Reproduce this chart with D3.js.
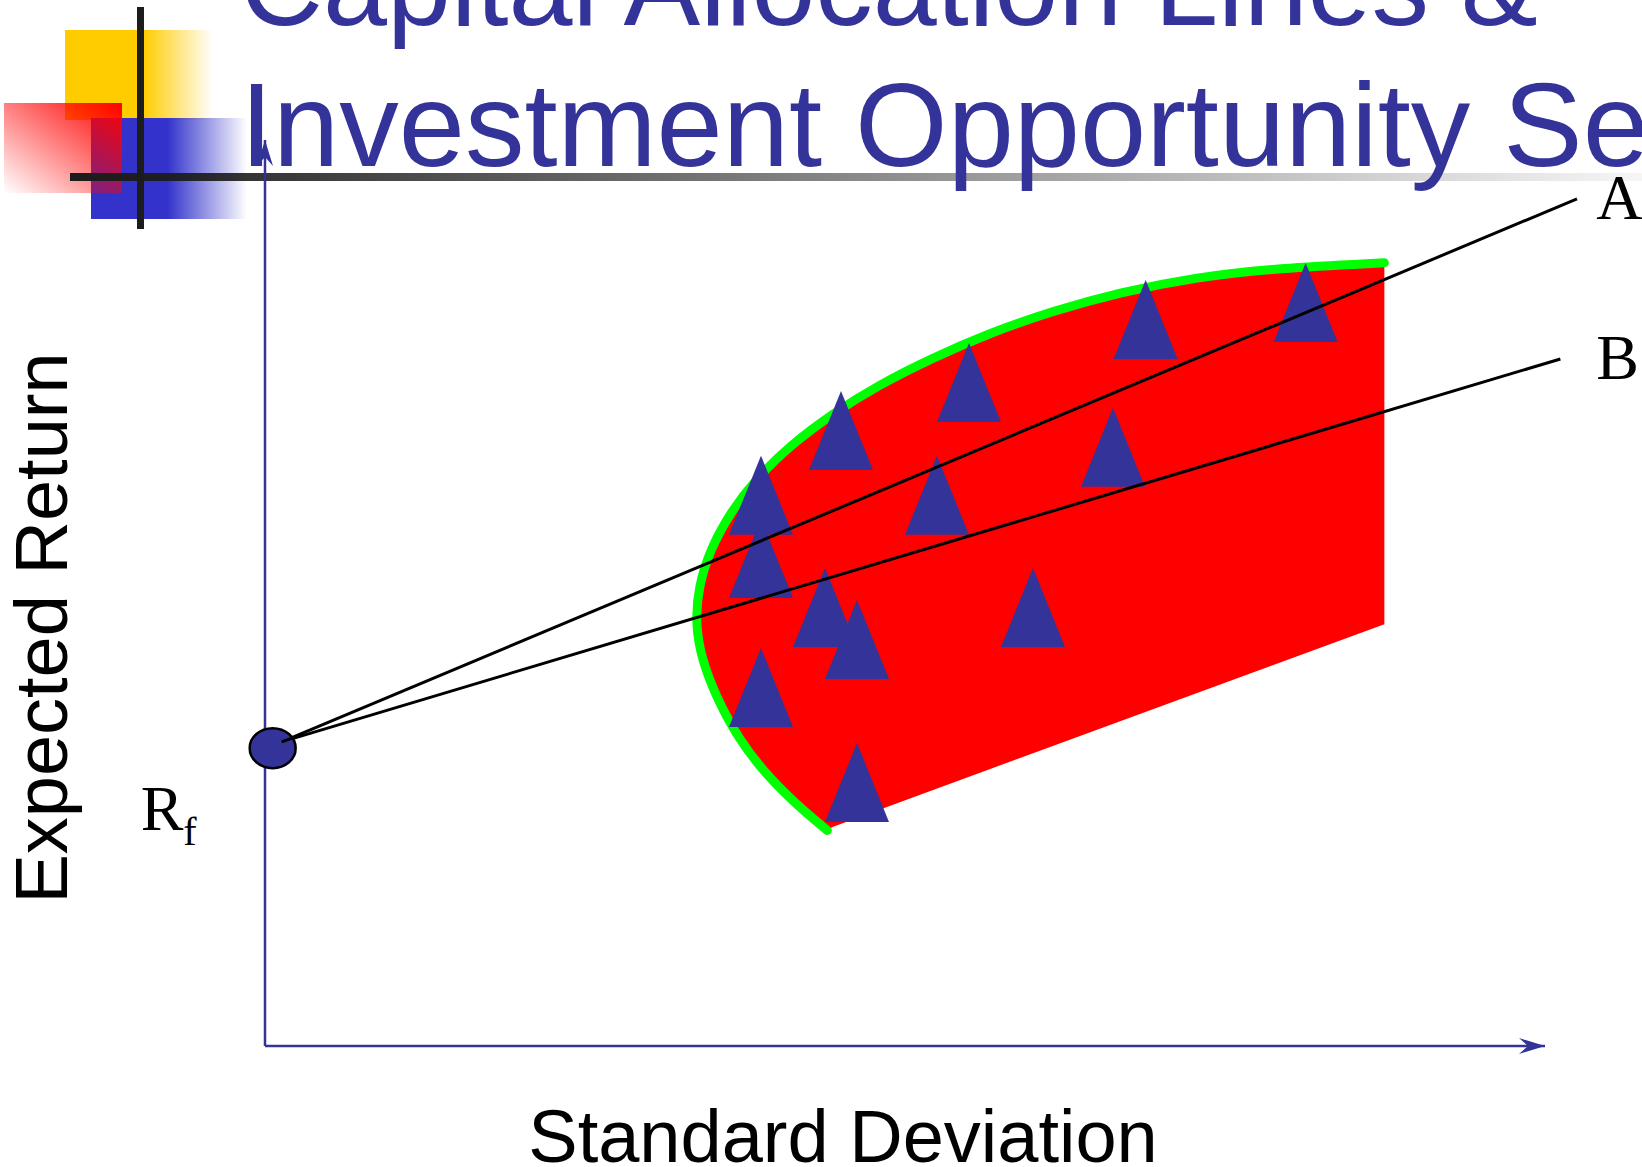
<!DOCTYPE html>
<html>
<head>
<meta charset="utf-8">
<script src="https://cdn.jsdelivr.net/npm/d3@7"></script>
<style>
  html, body { margin: 0; padding: 0; background: #fff; overflow: hidden; }
  svg { display: block; }
</style>
</head>
<body>
<div id="chart"></div>
<script>
/* Capital allocation lines over the investment opportunity set.
   Units on both axes run 0–100 along the drawn axis arrows. */

// efficient / minimum-variance frontier, bottom end -> top-right end
var frontier = [
  [43.93, 23.71], [41.48, 26.61], [39.02, 30.08], [36.98, 33.89], [35.34, 38.18],
  [34.11, 42.57], [33.62, 46.62], [33.87, 50.67], [34.77, 54.72], [36.32, 58.77],
  [38.37, 62.59], [41.06, 66.29], [44.34, 69.77], [48.02, 73.0], [52.11, 75.9],
  [56.61, 78.67], [61.52, 81.1], [66.84, 83.18], [72.56, 84.81], [79.11, 85.85],
  [87.45, 86.43]
];
// straight lower/right edge of the feasible set
var floorEdge = [[87.45, 46.5], [44.34, 24.1]];

// individual risky assets (triangle centres)
var assets = [
  [38.75, 60.7], [38.75, 53.7], [43.75, 48.3], [46.25, 44.75], [38.75, 39.45],
  [46.25, 28.95], [45.0, 67.85], [52.5, 60.7], [60.0, 48.3], [66.25, 66.0],
  [55.0, 73.15], [68.8, 80.1], [81.3, 82.0]
];

var riskFree = [0.6, 32.8];
var calStart = [1.3, 33.5];
var calNames = ["A", "B"];
var calEnds = [[102.5, 93.5], [101.2, 75.8]];

var titleLines = ["Capital Allocation Lines &", "Investment Opportunity Sets"];
var titleSizes = [115, 119];
var xTitle = "Standard Deviation";
var yTitle = "Expected Return";

(function () {
  "use strict";
  var W = 1642, H = 1167;
  var NAVY = "#333399", SANS = "'Liberation Sans', Arial, sans-serif",
      SERIF = "'Liberation Serif', 'Times New Roman', serif";

  var svg = d3.select("#chart").append("svg").attr("width", W).attr("height", H);
  var defs = svg.append("defs");

  var x = d3.scaleLinear().domain([0, 100]).range([265, 1545]);
  var y = d3.scaleLinear().domain([0, 100]).range([1045, 140]);

  // ---- gradients for the slide decoration ----
  function grad(id, x1, y1, x2, y2, stops) {
    var g = defs.append("linearGradient").attr("id", id)
      .attr("x1", x1).attr("y1", y1).attr("x2", x2).attr("y2", y2);
    stops.forEach(function (s) {
      g.append("stop").attr("offset", s[0]).attr("stop-color", s[1]).attr("stop-opacity", s[2]);
    });
  }
  grad("gY", 0, 0, 1, 0, [[0, "#FFCC00", 1], [0.53, "#FFCC00", 1], [1, "#FFCC00", 0]]);
  grad("gB", 0, 0, 1, 0, [[0, "#3333CC", 1], [0.49, "#3333CC", 1], [1, "#3333CC", 0]]);
  grad("gR", 1, 0, 0, 1, [[0, "#FF0000", 1], [1, "#FF0000", 0]]);
  grad("gBar", 0, 0, 1, 0, [[0, "#1C1C1C", 1], [1, "#1C1C1C", 0.04]]);

  // arrow marker (stealth style)
  defs.append("marker").attr("id", "arr").attr("markerUnits", "userSpaceOnUse")
    .attr("viewBox", "0 -9 27 18").attr("refX", 26).attr("refY", 0)
    .attr("markerWidth", 27).attr("markerHeight", 18).attr("orient", "auto")
    .append("path").attr("d", "M0,-8L26,0L0,8L9,0Z").attr("fill", NAVY);

  // ---- decoration top-left ----
  var deco = svg.append("g");
  deco.append("rect").attr("x", 65).attr("y", 30).attr("width", 148).attr("height", 90).attr("fill", "url(#gY)");
  deco.append("rect").attr("x", 91).attr("y", 118).attr("width", 156).attr("height", 101).attr("fill", "url(#gB)");
  deco.append("rect").attr("x", 4).attr("y", 103).attr("width", 118).attr("height", 90).attr("fill", "url(#gR)");
  deco.append("rect").attr("x", 70).attr("y", 173).attr("width", W - 70).attr("height", 8).attr("fill", "url(#gBar)");
  deco.append("rect").attr("x", 137).attr("y", 7).attr("width", 7).attr("height", 222).attr("fill", "#1C1C1C");

  // ---- feasible set ----
  var line = d3.line().x(function (d) { return x(d[0]); }).y(function (d) { return y(d[1]); })
    .curve(d3.curveBasis);
  var edge = floorEdge.map(function (d) { return "L" + x(d[0]) + "," + y(d[1]); }).join("");
  svg.append("path").attr("d", line(frontier) + edge + "Z").attr("fill", "#FF0000");
  svg.append("path").attr("d", line(frontier)).attr("fill", "none")
    .attr("stroke", "#00FF00").attr("stroke-width", 9).attr("stroke-linecap", "round");

  // ---- assets ----
  svg.append("g").selectAll("path").data(assets).enter().append("path")
    .attr("d", function (d) {
      var cx = x(d[0]), cy = y(d[1]);
      return "M" + cx + "," + (cy - 40) + "L" + (cx + 32) + "," + (cy + 39) + "L" + (cx - 32) + "," + (cy + 39) + "Z";
    })
    .attr("fill", NAVY);

  // ---- axes ----
  svg.append("line").attr("x1", x(0)).attr("x2", x(100)).attr("y1", y(0) + 1).attr("y2", y(0) + 1)
    .attr("stroke", NAVY).attr("stroke-width", 2.5).attr("marker-end", "url(#arr)");
  svg.append("line").attr("x1", x(0)).attr("x2", x(0)).attr("y1", y(0) + 1).attr("y2", y(100))
    .attr("stroke", NAVY).attr("stroke-width", 2.5).attr("marker-end", "url(#arr)");

  // ---- capital allocation lines ----
  calEnds.forEach(function (e, i) {
    svg.append("line").attr("x1", x(calStart[0])).attr("y1", y(calStart[1]))
      .attr("x2", x(e[0])).attr("y2", y(e[1]))
      .attr("stroke", "#000").attr("stroke-width", 3);
    svg.append("text").attr("x", x(104)).attr("y", y(e[1]) + 20)
      .attr("font-family", SERIF).attr("font-size", 64).attr("fill", "#000")
      .text(calNames[i]);
  });

  // risk-free asset
  svg.append("ellipse").attr("cx", x(riskFree[0])).attr("cy", y(riskFree[1]))
    .attr("rx", 23).attr("ry", 20).attr("fill", NAVY).attr("stroke", "#000").attr("stroke-width", 2.5);
  svg.append("line").attr("x1", x(calStart[0])).attr("y1", y(calStart[1]))
    .attr("x2", x(calStart[0]) + 14).attr("y2", y(calStart[1]) - 5)
    .attr("stroke", "#000").attr("stroke-width", 3);
  var rf = svg.append("text").attr("x", x(riskFree[0]) - 132).attr("y", y(riskFree[1]) + 82)
    .attr("font-family", SERIF).attr("font-size", 64).attr("fill", "#000");
  rf.append("tspan").text("R");
  rf.append("tspan").attr("font-size", 40).attr("dy", 15).text("f");

  // ---- axis titles ----
  svg.append("text").attr("x", 843).attr("y", 1162).attr("text-anchor", "middle")
    .attr("font-family", SANS).attr("font-size", 74).attr("fill", "#000").text(xTitle);
  svg.append("text").attr("transform", "translate(67,628) rotate(-90)").attr("text-anchor", "middle")
    .attr("font-family", SANS).attr("font-size", 74).attr("fill", "#000").text(yTitle);

  // ---- slide title (runs off the top and right edges) ----
  svg.append("g").selectAll("text").data(titleLines).enter().append("text")
    .attr("x", function (d, i) { return i ? 240 : 240; })
    .attr("y", function (d, i) { return 25 + i * 141; })
    .attr("font-family", SANS).attr("font-size", function (d, i) { return titleSizes[i]; })
    .attr("fill", NAVY)
    .text(function (d) { return d; });
})();
</script>
</body>
</html>
